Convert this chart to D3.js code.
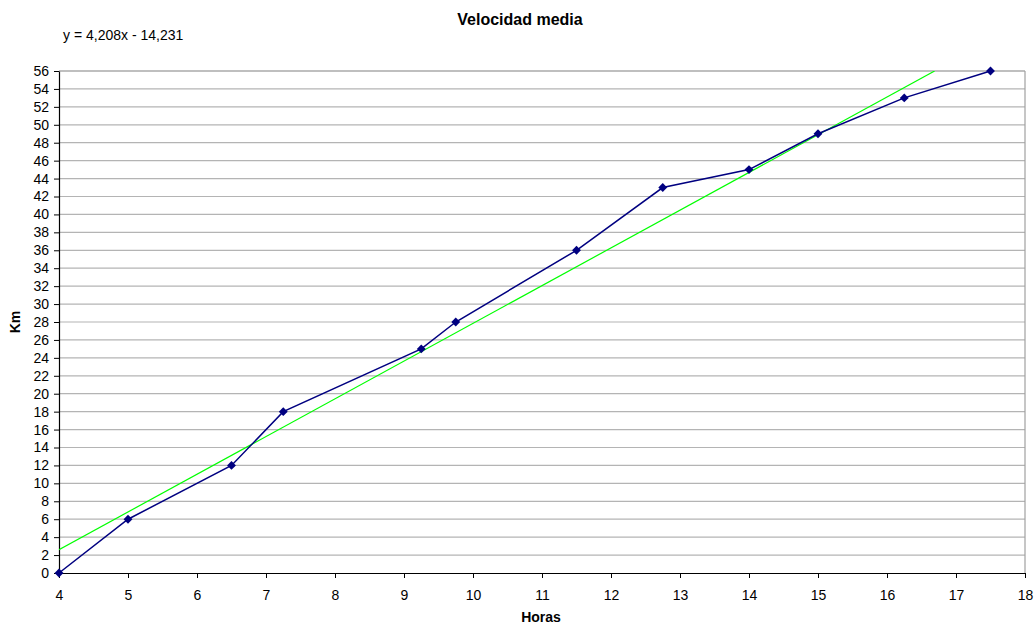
<!DOCTYPE html>
<html>
<head>
<meta charset="utf-8">
<script src="https://cdn.jsdelivr.net/npm/d3@7"></script>
<style>
body{margin:0;background:#fff;}
text{font-family:"Liberation Sans",Arial,sans-serif;}
</style>
</head>
<body>
<div id="chart"></div>
<script>
// datos
const horas = [4, 5, 6.5, 7.25, 9.25, 9.75, 11.5, 12.75, 14, 15, 16.25, 17.5];
const km = [0, 6, 12, 18, 25, 28, 36, 43, 45, 49, 53, 56];
const xTicks = d3.range(4, 19, 1);
const yTicks = d3.range(0, 57, 2);
// linea de tendencia
const slope = 4.208, intercept = -14.231;

const width = 1034, height = 625;
const margin = {top:71, right:9, bottom:52, left:59};
const w = width - margin.left - margin.right;
const h = height - margin.top - margin.bottom;

const svg = d3.select('#chart').append('svg')
    .attr('width', width).attr('height', height);

const g = svg.append('g').attr('transform', `translate(${margin.left},${margin.top})`);

const x = d3.scaleLinear([4, 18], [0, w]);
const y = d3.scaleLinear([0, 56], [h, 0]);

//grid
g.append('g').selectAll('line').data(yTicks.filter(d => d > 0)).join('line')
    .attr('x1', 0).attr('x2', w)
    .attr('y1', d => y(d)).attr('y2', d => y(d))
    .attr('stroke', d => d === 56 ? '#808080' : '#b4b4b4').attr('stroke-width', 1.2);

//right border
g.append('line').attr('x1', w).attr('x2', w).attr('y1', 0).attr('y2', h)
    .attr('stroke', '#a0a0a0').attr('stroke-width', 1.2);

//axes
const xAxis = g.append('g').attr('transform', `translate(0,${h})`)
    .call(d3.axisBottom(x).tickValues(xTicks).tickSize(5).tickSizeOuter(0).tickFormat(d3.format('d')));
const yAxis = g.append('g')
    .call(d3.axisLeft(y).tickValues(yTicks).tickSize(5).tickSizeOuter(0).tickFormat(d3.format('d')));
[xAxis, yAxis].forEach(a => {
    a.select('.domain').attr('stroke', '#000').attr('stroke-width', 1.2);
    a.selectAll('.tick line').attr('stroke', '#000');
    a.selectAll('text').attr('font-size', 14).attr('fill', '#000')
        .attr('font-family', '"Liberation Sans",Arial,sans-serif');
});
xAxis.selectAll('text').attr('y', 27).attr('dy', null);
yAxis.selectAll('text').attr('x', -10);

//trend
g.append('clipPath').attr('id', 'clip').append('rect').attr('width', w).attr('height', h);
const xEnd = (56 - intercept) / slope;
g.append('line').attr('clip-path', 'url(#clip)')
    .attr('x1', x(4)).attr('y1', y(slope * 4 + intercept))
    .attr('x2', x(xEnd)).attr('y2', y(56))
    .attr('stroke', '#00ff00').attr('stroke-width', 1.2);

//serie
const pts = horas.map((d, i) => ({h:d, k:km[i]}));
g.append('path').datum(pts)
    .attr('fill', 'none').attr('stroke', '#000080').attr('stroke-width', 1.5)
    .attr('d', d3.line().x(d => x(d.h)).y(d => y(d.k)));
g.append('g').selectAll('path').data(pts).join('path')
    .attr('transform', d => `translate(${x(d.h)},${y(d.k)})`)
    .attr('d', d3.symbol(d3.symbolDiamond2, 50))
    .attr('fill', '#000080');

//texts
svg.append('text').attr('x', 520).attr('y', 25).attr('text-anchor', 'middle')
    .attr('font-size', 16).attr('font-weight', 'bold').text('Velocidad media');
svg.append('text').attr('x', 63).attr('y', 40).attr('font-size', 14).text('y = 4,208x - 14,231');
svg.append('text').attr('x', 541).attr('y', 622).attr('text-anchor', 'middle')
    .attr('font-size', 14).attr('font-weight', 'bold').text('Horas');
svg.append('text').attr('transform', `translate(20,${margin.top + h / 2}) rotate(-90)`)
    .attr('text-anchor', 'middle').attr('font-size', 14).attr('font-weight', 'bold').text('Km');
</script>
</body>
</html>
